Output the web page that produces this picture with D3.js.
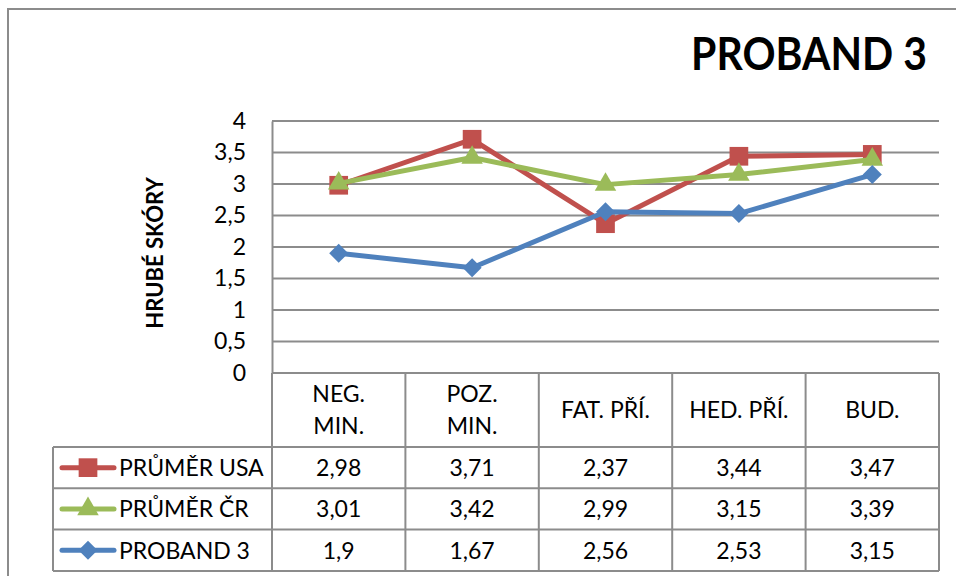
<!DOCTYPE html>
<html>
<head>
<meta charset="utf-8">
<script src="https://cdn.jsdelivr.net/npm/d3@7"></script>
<style>
  html, body { margin: 0; padding: 0; background: #fff; }
  svg { display: block; }
  text { font-family: Lato, "Open Sans", sans-serif; fill: #000; }
</style>
</head>
<body>
<svg id="chart" width="956" height="576"></svg>
<script>
// ---- data ----
const categories = [["NEG.", "MIN."], ["POZ.", "MIN."], ["FAT. PŘÍ."], ["HED. PŘÍ."], ["BUD."]];
const seriesNames = ["PRŮMĚR USA", "PRŮMĚR ČR", "PROBAND 3"];
const usaValues = [2.98, 3.71, 2.37, 3.44, 3.47];
const crValues = [3.01, 3.42, 2.99, 3.15, 3.39];
const probandValues = [1.9, 1.67, 2.56, 2.53, 3.15];
const yTicks = [0, 0.5, 1, 1.5, 2, 2.5, 3, 3.5, 4];
const chartTitle = "PROBAND 3";
const yAxisTitle = "HRUBÉ SKÓRY";

// ---- styles ----
const colors = ["#C0504D", "#9BBB59", "#4F81BD"];
const markerTypes = [d3.symbolSquare, d3.symbolTriangle, d3.symbolDiamond2];
const markerSizes = [350, 200, 230];
const gridColor = "#8c8c8c";

const series = seriesNames.map((name, i) => ({
  name,
  values: [usaValues, crValues, probandValues][i],
  color: colors[i],
  symbol: markerTypes[i],
  size: markerSizes[i]
}));

const locale = d3.formatLocale({ decimal: ",", thousands: " ", grouping: [3], currency: ["", ""] });
const fmt = locale.format("~g");

const svg = d3.select("#chart");

// layout
const plotLeft = 272, plotRight = 939, plotTop = 121, plotBottom = 373;
const headerBottom = 447;
const rowHeight = 41.3;
const legendLeft = 53;

const x = d3.scaleBand().domain(d3.range(categories.length)).range([plotLeft, plotRight]).padding(0);
const y = d3.scaleLinear().domain([0, 4]).range([plotBottom, plotTop]);

// outer border
svg.append("rect")
  .attr("x", 8).attr("y", 9).attr("width", 980).attr("height", 600)
  .attr("fill", "none").attr("stroke", gridColor).attr("stroke-width", 2);

// title
svg.append("text")
  .attr("transform", "translate(927,70) scale(1,1.12)")
  .attr("text-anchor", "end")
  .attr("font-size", 41).attr("font-weight", "bold")
  .text(chartTitle);

// y axis title
svg.append("text")
  .attr("transform", `translate(163,253) rotate(-90)`)
  .attr("text-anchor", "middle")
  .attr("font-size", 22).attr("font-weight", "bold")
  .text(yAxisTitle);

// gridlines
svg.append("g").selectAll("line").data(yTicks.filter(t => t > 0)).join("line")
  .attr("x1", plotLeft).attr("x2", plotRight)
  .attr("y1", d => y(d)).attr("y2", d => y(d))
  .attr("stroke", gridColor).attr("stroke-width", 2);

// y axis
const yAxis = d3.axisLeft(y).tickValues(yTicks).tickFormat(fmt).tickSize(0).tickPadding(26);
const yg = svg.append("g").attr("transform", `translate(${plotLeft},0)`).call(yAxis);
yg.select(".domain").attr("stroke", gridColor).attr("stroke-width", 2);
yg.selectAll("text").attr("font-size", 23).attr("font-family", "Lato, 'Open Sans', sans-serif").attr("fill", "#000");

// ---- data table ----
const table = svg.append("g");
const rowsY = d3.range(series.length + 1).map(i => headerBottom + i * rowHeight);

// horizontal lines
table.append("line").attr("x1", plotLeft).attr("x2", plotRight)
  .attr("y1", plotBottom).attr("y2", plotBottom)
  .attr("stroke", gridColor).attr("stroke-width", 2);
table.selectAll("line.h").data(rowsY).join("line").attr("class", "h")
  .attr("x1", legendLeft).attr("x2", plotRight)
  .attr("y1", d => d).attr("y2", d => d)
  .attr("stroke", gridColor).attr("stroke-width", 2);
// vertical lines
const colEdges = d3.range(categories.length + 1).map(i => i < categories.length ? x(i) : plotRight);
table.selectAll("line.v").data(colEdges).join("line").attr("class", "v")
  .attr("x1", d => d).attr("x2", d => d)
  .attr("y1", plotBottom).attr("y2", rowsY[rowsY.length - 1])
  .attr("stroke", gridColor).attr("stroke-width", 2);
table.append("line").attr("x1", legendLeft).attr("x2", legendLeft)
  .attr("y1", headerBottom).attr("y2", rowsY[rowsY.length - 1])
  .attr("stroke", gridColor).attr("stroke-width", 2);

// header labels
const headerMid = (plotBottom + headerBottom) / 2;
categories.forEach((lines, i) => {
  const cx = x(i) + x.bandwidth() / 2;
  const lh = 32;
  lines.forEach((ln, j) => {
    table.append("text")
      .attr("x", cx)
      .attr("y", headerMid + (j - (lines.length - 1) / 2) * lh)
      .attr("dy", "0.36em")
      .attr("text-anchor", "middle")
      .attr("font-size", 23)
      .text(ln);
  });
});

// series rows
series.forEach((s, r) => {
  const cy = rowsY[r] + rowHeight / 2;
  // legend key
  table.append("line").attr("x1", 62).attr("x2", 114).attr("y1", cy).attr("y2", cy)
    .attr("stroke", s.color).attr("stroke-width", 5).attr("stroke-linecap", "round");
  table.append("path").attr("d", d3.symbol(s.symbol, s.size)())
    .attr("transform", `translate(88,${cy})`).attr("fill", s.color);
  table.append("text").attr("x", 119).attr("y", cy).attr("dy", "0.36em")
    .attr("font-size", 23).text(s.name);
  s.values.forEach((v, i) => {
    table.append("text")
      .attr("x", x(i) + x.bandwidth() / 2).attr("y", cy).attr("dy", "0.36em")
      .attr("text-anchor", "middle").attr("font-size", 23)
      .text(fmt(v));
  });
});

// ---- lines & markers ----
const line = d3.line().x((d, i) => x(i) + x.bandwidth() / 2).y(d => y(d));
series.forEach(s => {
  const g = svg.append("g");
  g.append("path").datum(s.values).attr("d", line)
    .attr("fill", "none").attr("stroke", s.color).attr("stroke-width", 5)
    .attr("stroke-linejoin", "round");
  g.selectAll("path.m").data(s.values).join("path").attr("class", "m")
    .attr("d", d3.symbol(s.symbol, s.size)())
    .attr("transform", (d, i) => `translate(${x(i) + x.bandwidth() / 2},${y(d)})`)
    .attr("fill", s.color);
});
</script>
</body>
</html>
